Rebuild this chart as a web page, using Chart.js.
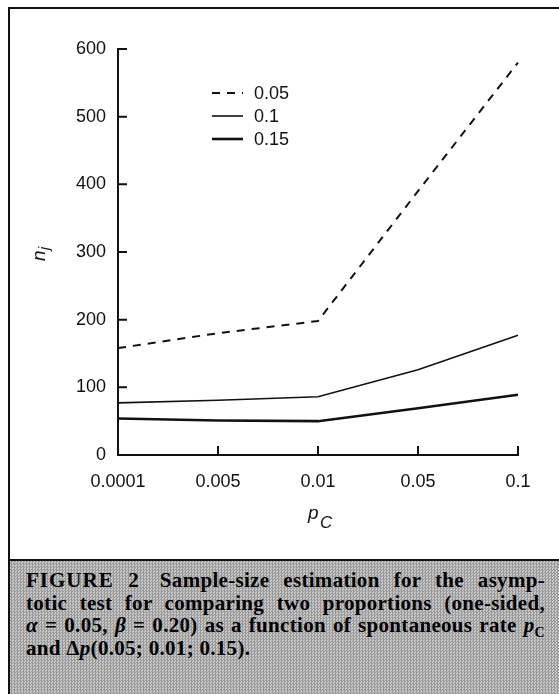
<!DOCTYPE html>
<html>
<head>
<meta charset="utf-8">
<script src="https://cdn.jsdelivr.net/npm/chart.js@4/dist/chart.umd.min.js"></script>
<style>
  html, body { margin: 0; padding: 0; background: #fff; }
  #page { position: relative; width: 559px; height: 694px; overflow: hidden; }
  #frame { position: absolute; left: 8px; top: 7px; width: 551px; height: 553px;
    border-left: 2px solid #111; border-top: 2px solid #111; box-sizing: border-box; }
  #chartView { position: absolute; left: 0; top: 0; }
  #cap { position: absolute; left: 8px; top: 559px; width: 551px; height: 135px;
    box-sizing: border-box; border-left: 2px solid #111; border-top: 2px solid #111;
    background-color: #b0b0b0;
    background-image: repeating-conic-gradient(#999 0 25%, #c8c8c8 0 50%);
    background-size: 3px 3px;
    padding: 8px 14px 0 16px;
    font-family: "Liberation Serif", "DejaVu Serif", serif; font-weight: bold;
    font-size: 21px; letter-spacing: 0.3px; line-height: 22.7px; color: #000; }
  .ln { text-align: justify; text-align-last: justify; }
  .ln.last { text-align-last: left; }
  .fig { font-weight: 900; letter-spacing: 1px; margin-right: 6px; }
  sub { font-size: 14px; line-height: 0; }
</style>
</head>
<body>
<div id="page">
  <div id="frame"></div>
  <canvas id="chartView" width="559" height="560"></canvas>
  <div id="cap">
    <div class="ln"><span class="fig">FIGURE 2</span> Sample-size estimation for the asymp-</div>
    <div class="ln">totic test for comparing two proportions (one-sided,</div>
    <div class="ln"><i>α</i> = 0.05, <i>β</i> = 0.20) as a function of spontaneous rate <i>p</i><sub>C</sub></div>
    <div class="ln last">and Δ<i>p</i>(0.05; 0.01; 0.15).</div>
  </div>
</div>
<script>
// spontaneous rate p_C (categories, equally spaced)
var pcLabels = ['0.0001', '0.005', '0.01', '0.05', '0.1'];
// sample size n_j per delta p
var nDelta005 = [158, 180, 198, 390, 580];
var nDelta01 = [77, 81, 86, 126, 177];
var nDelta015 = [54, 51, 50, 69, 89];
var seriesNames = ['0.05', '0.1', '0.15'];
var yTickValues = [0, 100, 200, 300, 400, 500, 600];

var tickFont = { family: 'Liberation Sans', size: 18 };

// ticks pointing into the plot area
var innerTicks = {
  id: 'innerTicks',
  afterDraw: function (chart) {
    var ctx = chart.ctx, a = chart.chartArea;
    var xs = chart.scales.x, ys = chart.scales.y;
    ctx.save();
    ctx.strokeStyle = '#111';
    ctx.lineWidth = 2;
    ctx.beginPath();
    xs.ticks.forEach(function (t, i) {
      var x = xs.getPixelForTick(i);
      ctx.moveTo(x, a.bottom); ctx.lineTo(x, a.bottom - 9);
    });
    ys.ticks.forEach(function (t, i) {
      var y = ys.getPixelForTick(i);
      ctx.moveTo(a.left, y); ctx.lineTo(a.left + 9, y);
    });
    ctx.stroke();
    ctx.restore();
  }
};

// axis titles with subscripts
var axisTitles = {
  id: 'axisTitles',
  afterDraw: function (chart) {
    var ctx = chart.ctx;
    ctx.save();
    ctx.fillStyle = '#111';
    ctx.textBaseline = 'alphabetic';
    // x title p_C
    ctx.font = 'italic 19px "Liberation Sans"';
    ctx.fillText('p', 308, 519);
    ctx.font = 'italic 17px "Liberation Sans"';
    ctx.fillText('C', 320, 528);
    // y title n_j
    ctx.translate(45, 253);
    ctx.rotate(-Math.PI / 2);
    ctx.font = 'italic 19px "Liberation Sans"';
    ctx.fillText('n', -8, 0);
    ctx.font = 'italic 14px "Liberation Sans"';
    ctx.fillText('j', 3, 4);
    ctx.restore();
  }
};

// legend drawn inside the plot
var insideLegend = {
  id: 'insideLegend',
  afterDraw: function (chart) {
    var ctx = chart.ctx;
    ctx.save();
    chart.data.datasets.forEach(function (ds, i) {
      var y = 93 + i * 23;
      ctx.strokeStyle = '#111';
      ctx.lineWidth = ds.borderWidth;
      ctx.setLineDash(ds.borderDash || []);
      ctx.beginPath();
      ctx.moveTo(212, y); ctx.lineTo(243, y);
      ctx.stroke();
      ctx.setLineDash([]);
      ctx.fillStyle = '#111';
      ctx.font = '18px "Liberation Sans"';
      ctx.textBaseline = 'middle';
      ctx.fillText(ds.label, 254, y + 1);
    });
    ctx.restore();
  }
};

var chartCtx = document.getElementById('chartView').getContext('2d');
new Chart(chartCtx, {
  type: 'line',
  data: {
    labels: pcLabels,
    datasets: [{
      label: seriesNames[0],
      data: nDelta005,
      borderColor: '#111',
      borderWidth: 2,
      borderDash: [8, 7]
    }, {
      label: seriesNames[1],
      data: nDelta01,
      borderColor: '#111',
      borderWidth: 1.6
    }, {
      label: seriesNames[2],
      data: nDelta015,
      borderColor: '#111',
      borderWidth: 2.6
    }]
  },
  options: {
    responsive: false,
    animation: false,
    devicePixelRatio: 1,
    elements: { point: { radius: 0 }, line: { tension: 0 } },
    layout: { padding: { top: 49, right: 41, left: 0, bottom: 0 } },
    plugins: { legend: { display: false }, tooltip: { enabled: false } },
    scales: {
      x: {
        grid: { display: false, drawTicks: false },
        border: { display: true, color: '#111', width: 2 },
        ticks: { color: '#111', font: tickFont, padding: 16, maxRotation: 0, autoSkip: false },
        afterFit: function (s) { s.height = 105; }
      },
      y: {
        min: 0,
        max: 600,
        grid: { display: false, drawTicks: false },
        border: { display: true, color: '#111', width: 2 },
        ticks: { color: '#111', font: tickFont, padding: 12, stepSize: 100 },
        afterBuildTicks: function (s) {
          s.ticks = yTickValues.map(function (v) { return { value: v }; });
        },
        afterFit: function (s) { s.width = 118; }
      }
    }
  },
  plugins: [innerTicks, axisTitles, insideLegend]
});
</script>
</body>
</html>
